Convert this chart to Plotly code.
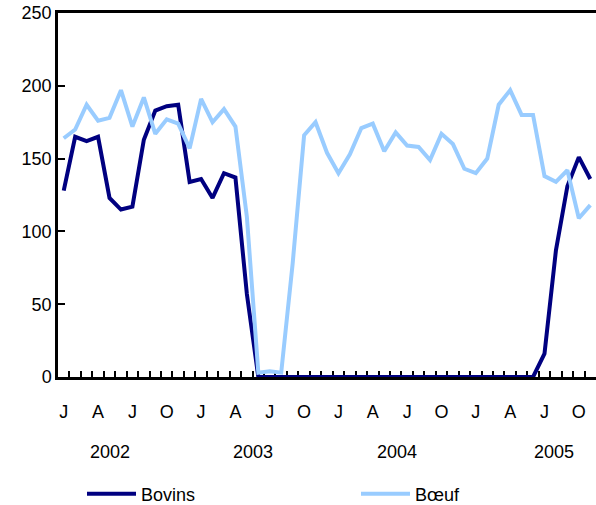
import plotly.graph_objects as go

months = ["J", "F", "M", "A", "M", "J", "J", "A", "S", "O", "N", "D"]
years = ["2002", "2003", "2004", "2005"]
n_months = 47  # Jan 2002 .. Nov 2005

bovins = [128, 165, 162, 165, 123, 115, 117, 163, 183, 186, 187, 134,
          136, 123, 140, 137, 57, 0, 0, 0, 0, 0, 0, 0,
          0, 0, 0, 0, 0, 0, 0, 0, 0, 0, 0, 0,
          0, 0, 0, 0, 0, 0, 16, 87, 131, 151, 136]

boeuf = [164, 170, 187, 176, 178, 197, 172, 192, 167, 177, 174, 157,
         191, 175, 184, 172, 110, 3, 4, 3, 78, 166, 175, 154,
         140, 153, 171, 174, 155, 168, 159, 158, 149, 167, 160, 143,
         140, 150, 187, 197, 180, 180, 138, 134, 142, 109, 118]

x = list(range(n_months))
month_tick_idx = list(range(0, n_months, 3))
month_tick_text = [months[i % 12] for i in month_tick_idx]
year_pos = [4.0, 16.5, 29.1, 42.8]

font_family = "Liberation Sans, Arial, sans-serif"

fig = go.Figure()
fig.add_trace(go.Scatter(x=x, y=bovins, mode="lines", name="Bovins",
                         line=dict(color="#000080", width=4), legend="legend"))
fig.add_trace(go.Scatter(x=x, y=boeuf, mode="lines", name="Bœuf",
                         line=dict(color="#99CCFF", width=4), legend="legend2"))

for yr, pos in zip(years, year_pos):
    fig.add_annotation(x=pos, y=0, xref="x", yref="paper", text=yr,
                       showarrow=False, yshift=-87,
                       font=dict(size=18, color="black", family=font_family))

legend_common = dict(orientation="h", xref="container", yref="container",
                     xanchor="left", yanchor="middle", itemwidth=49,
                     font=dict(size=18, family=font_family, color="black"),
                     bgcolor="rgba(0,0,0,0)")

fig.update_layout(
    width=596, height=505,
    margin=dict(l=58, r=0, t=13, b=128, autoexpand=False),
    plot_bgcolor="white", paper_bgcolor="white",
    font=dict(family=font_family, size=18, color="black"),
    showlegend=True,
    legend=dict(x=82 / 596, y=11 / 505, **legend_common),
    legend2=dict(x=356 / 596, y=11 / 505, **legend_common),
    xaxis=dict(range=[-0.5, n_months - 0.5], showgrid=False, zeroline=False,
               automargin=False,
               tickmode="array", tickvals=month_tick_idx, ticktext=month_tick_text,
               ticks="", ticklabelstandoff=17,
               showline=True, linecolor="black", linewidth=2.5, mirror=True,
               layer="below traces",
               minor=dict(tickmode="array",
                          tickvals=[i + 0.5 for i in range(n_months - 1)],
                          ticks="inside", ticklen=6, tickwidth=2, tickcolor="black",
                          showgrid=False)),
    yaxis=dict(range=[0, 250], showgrid=False, zeroline=False,
               automargin=False,
               tickmode="array", tickvals=[0, 50, 100, 150, 200, 250],
               ticks="inside", ticklen=7, tickwidth=2, tickcolor="black",
               showline=True, linecolor="black", linewidth=2.5,
               layer="below traces"),
)

fig.write_html("out.html",
               config={"displayModeBar": False},
               post_script="document.body.style.margin='0';document.body.style.overflow='hidden';")
